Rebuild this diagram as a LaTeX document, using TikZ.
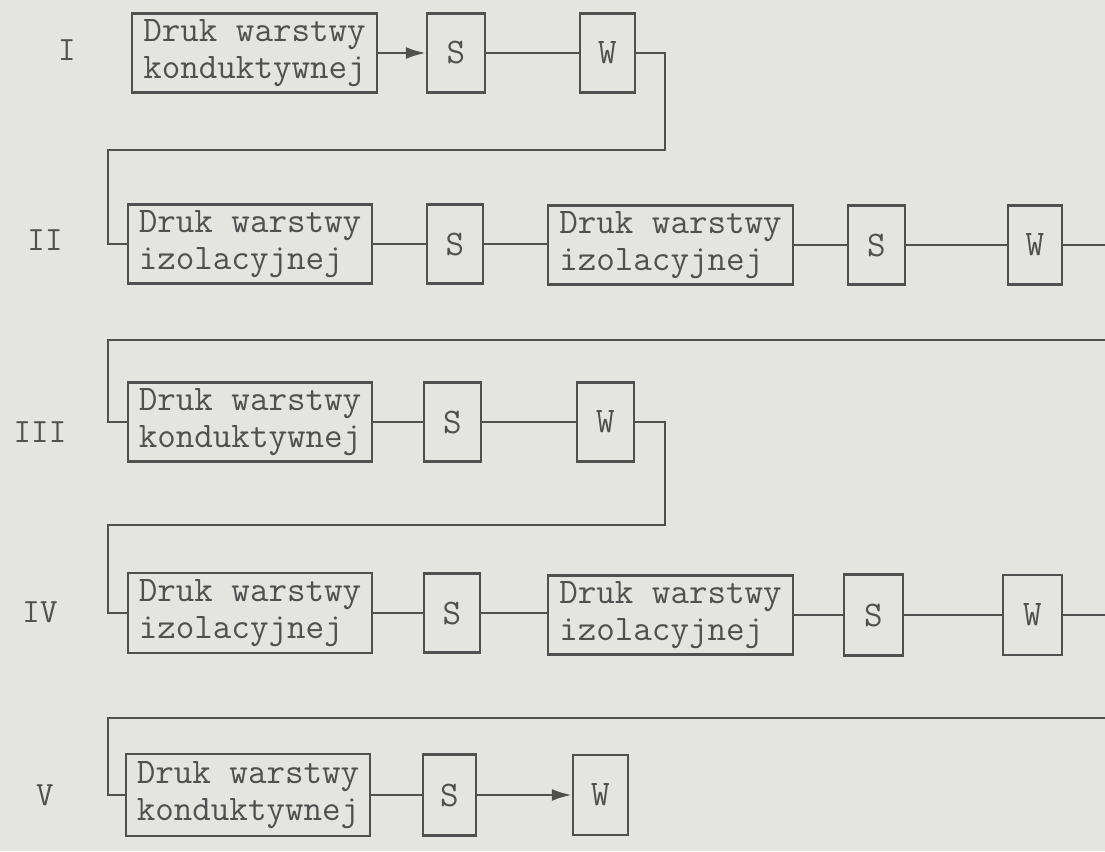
\documentclass[tikz,border=0pt]{standalone}
\usetikzlibrary{arrows.meta}
\definecolor{paper}{RGB}{228,228,225}
\definecolor{ink}{RGB}{80,80,80}
\begin{document}
\begin{tikzpicture}[x=1pt,y=-1pt,
  box/.style={draw=ink, line width=2.4pt, text=ink, inner sep=0pt,
    font=\fontsize{36}{37}\selectfont\ttfamily, align=left},
  wide/.style={box, minimum width=245, minimum height=79},
  narrow/.style={box, minimum width=56, minimum height=79},
  lab/.style={text=ink, font=\fontsize{34}{36}\selectfont\ttfamily},
  conn/.style={draw=ink, line width=2.4pt},
  arr/.style={conn, -{Latex[length=20pt,width=12pt]}}]
\fill[paper] (0,0) rectangle (1105,851);
\useasboundingbox (0,0) rectangle (1105,851);
% row I
\node[lab] (r1) at (67,50) {I};
\node[wide] (b1) at (254.5,53) {Druk warstwy\\konduktywnej};
\node[narrow, minimum width=58] (s1) at (456,53) {S};
\node[narrow, minimum width=55] (w1) at (607.5,53) {W};
\draw[arr] (b1) -- (s1);
\draw[conn] (s1) -- (w1);
\coordinate (t1) at (665,150);
\coordinate (l1) at (108,150);
% row II
\node[lab] (r2) at (45,240) {II};
\node[wide, minimum width=244] (b2) at (250,244) {Druk warstwy\\izolacyjnej};
\node[narrow] (s2) at (455,244) {S};
\node[wide] (b3) at (670.5,245) {Druk warstwy\\izolacyjnej};
\node[narrow, minimum width=57] (s3) at (876.5,245) {S};
\node[narrow, minimum width=54] (w2) at (1035,245) {W};
\draw[conn] (w1.east) -| (t1) -- (l1) |- (b2.west);
\draw[conn] (b2) -- (s2);
\draw[conn] (s2) -- (b2.east -| b3.west);
\draw[conn] (b3) -- (s3);
\draw[conn] (s3) -- (w2);
\coordinate (e2) at (1105,245);
\draw[conn] (w2.east) -- (e2);
\coordinate (e2b) at (1105,340);
\coordinate (l2) at (108,340);
% row III
\node[lab] (r3) at (40,432) {III};
\node[wide, minimum width=244] (b4) at (250,422) {Druk warstwy\\konduktywnej};
\node[narrow, minimum width=57] (s4) at (452.5,422) {S};
\node[narrow, minimum width=57] (w3) at (605.5,422) {W};
\draw[conn] (e2b) -- (l2) |- (b4.west);
\draw[conn] (b4) -- (s4);
\draw[conn] (s4) -- (w3);
\coordinate (t3) at (665,525);
\coordinate (l3) at (108,525);
% row IV
\node[lab] (r4) at (40,612) {IV};
\node[wide, minimum width=244, minimum height=80] (b5) at (250,613) {Druk warstwy\\izolacyjnej};
\node[narrow] (s5) at (452,613) {S};
\node[wide] (b6) at (670.5,615) {Druk warstwy\\izolacyjnej};
\node[narrow, minimum width=59, minimum height=81] (s6) at (873.5,615) {S};
\node[narrow, minimum width=59, minimum height=80] (w4) at (1032.5,615) {W};
\draw[conn] (w3.east) -| (t3) -- (l3) |- (b5.west);
\draw[conn] (b5) -- (s5);
\draw[conn] (s5) -- (b6.west |- s5.east);
\draw[conn] (b6) -- (s6);
\draw[conn] (s6) -- (w4);
\coordinate (e4) at (1105,615);
\draw[conn] (w4.east) -- (e4);
\coordinate (e4b) at (1105,718);
\coordinate (l4) at (108,718);
% row V
\node[lab] (r5) at (45,795) {V};
\node[wide, minimum width=244, minimum height=82] (b7) at (248,795) {Druk warstwy\\konduktywnej};
\node[narrow, minimum width=53, minimum height=81] (s7) at (449.5,795) {S};
\node[narrow, minimum width=55, minimum height=80] (w5) at (600.5,795) {W};
\draw[conn] (e4b) -- (l4) |- (b7.west);
\draw[conn] (b7) -- (s7);
\draw[arr] (s7) -- (w5);
\end{tikzpicture}
\end{document}
